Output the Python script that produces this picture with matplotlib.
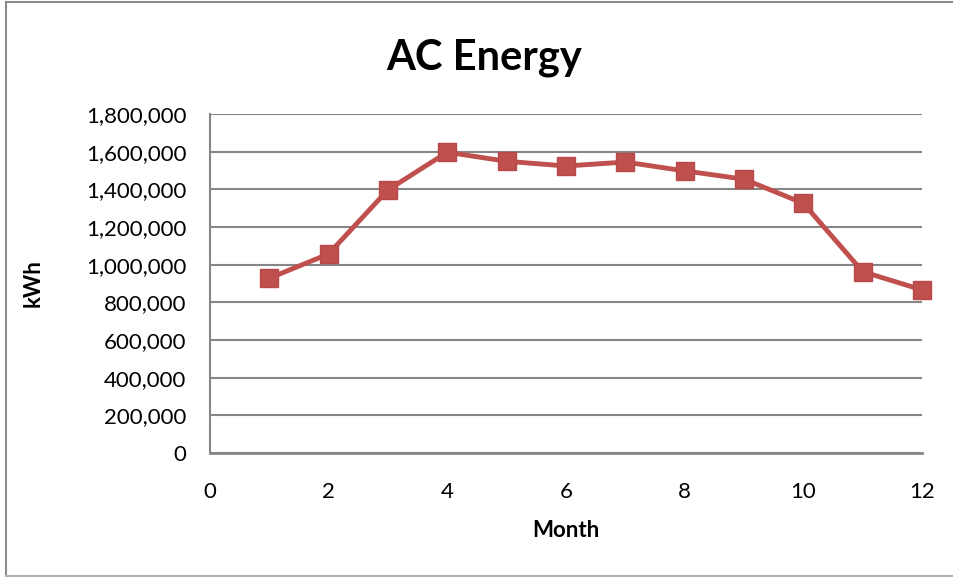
import numpy as np
import matplotlib.pyplot as plt
from matplotlib.ticker import FuncFormatter
from matplotlib.lines import Line2D

# Monthly AC energy output (kWh)
months = [1, 2, 3, 4, 5, 6, 7, 8, 9, 10, 11, 12]
energy_kwh = [928000, 1057000, 1397000, 1597000, 1549000, 1524000,
              1545000, 1498000, 1454000, 1326000, 963000, 866000]

x_ticks = [0, 2, 4, 6, 8, 10, 12]
y_ticks = [0, 200000, 400000, 600000, 800000, 1000000, 1200000, 1400000, 1600000, 1800000]

plt.rcParams['font.family'] = ['Lato', 'DejaVu Sans']

fig = plt.figure(figsize=(9.54, 5.77), dpi=100)
ax = fig.add_axes([0.220, 0.2149, 0.7465, 0.5875])

# Outer chart border (left, top, bottom; right edge is cropped off)
border = dict(transform=fig.transFigure, color='#8c8c8c', linewidth=1.5)
fig.add_artist(Line2D([0.006, 0.006], [0.002, 0.997], **border))
fig.add_artist(Line2D([0.006, 1.0], [0.997, 0.997], **border))
fig.add_artist(Line2D([0.006, 1.0], [0.002, 0.002], color='#b0b0b0', linewidth=1.5,
                      transform=fig.transFigure))

ax.plot(months, energy_kwh, color='#C0504D', linewidth=3.5,
        marker='s', markersize=13, markerfacecolor='#C0504D', markeredgecolor='#B9484A',
        zorder=3, clip_on=False)

ax.set_xlim(0, 12)
ax.set_ylim(0, 1800000)
ax.set_xticks(x_ticks)
ax.set_yticks(y_ticks)
ax.yaxis.set_major_formatter(FuncFormatter(lambda v, p: f"{int(v):,}"))

ax.grid(axis='y', color='#868686', linewidth=1.5)
ax.set_axisbelow(True)
for side in ['top', 'right']:
    ax.spines[side].set_visible(False)
ax.spines['left'].set_color('#868686')
ax.spines['left'].set_linewidth(1.5)
ax.spines['bottom'].set_color('#868686')
ax.spines['bottom'].set_linewidth(2)
ax.tick_params(length=0, labelsize=16)
ax.tick_params(axis='y', pad=17)
ax.tick_params(axis='x', pad=21)

fig.text(0.507, 0.879, "AC Energy", fontsize=30, fontweight='bold',
         ha='center', va='baseline')
ax.set_xlabel("Month", fontsize=16, fontweight='bold', labelpad=13)
ax.set_ylabel("kWh", fontsize=16, fontweight='bold', labelpad=30)

fig.savefig("out.png", dpi=100)
